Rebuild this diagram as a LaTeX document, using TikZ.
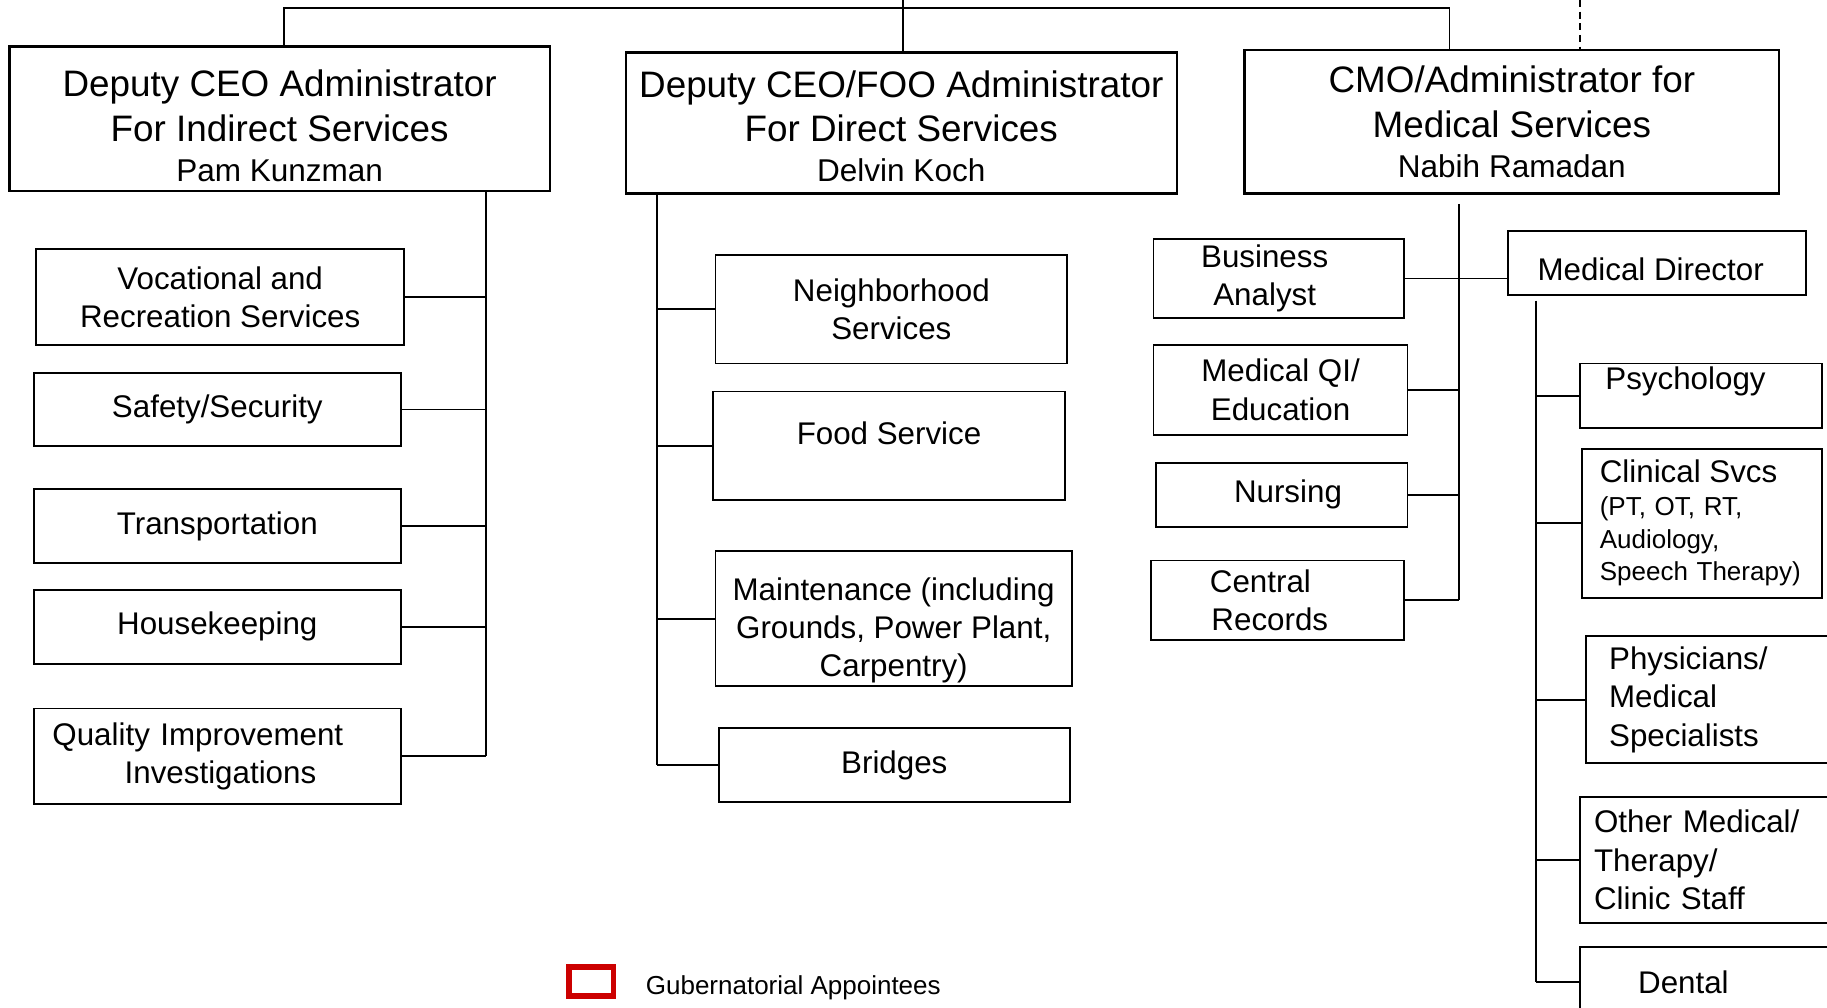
\documentclass[tikz,border=0pt]{standalone}
\usepackage{fontspec}
\setmainfont{Liberation Sans}
\usetikzlibrary{positioning}

\newcommand{\headfont}{\fontsize{18}{21.6}\selectfont}
\newcommand{\namefont}{\fontsize{15.4}{19}\selectfont}
\newcommand{\unitfont}{\fontsize{15.3}{18.8}\selectfont}
\newcommand{\notefont}{\fontsize{12.7}{15.9}\selectfont}

\begin{document}
\begin{tikzpicture}[x=0.02cm,y=-0.02cm,
  headbox/.style={draw,line width=1.1pt,align=center,font=\headfont,inner sep=0pt},
  unitbox/.style={draw,line width=0.9pt,align=center,font=\unitfont,inner sep=0pt},
  leftbox/.style={unitbox,align=left},
  link/.style={line width=0.9pt}]
\useasboundingbox (0,0) rectangle (1568,865);
\clip (0,0) rectangle (1568,865);

\node[headbox,minimum width=9.28cm,minimum height=2.48cm] (dceoi) at (240,102) {\rule{0pt}{20pt}Deputy CEO Administrator\\For Indirect Services\\[-2pt]{\namefont Pam Kunzman}};
\node[headbox,minimum width=9.46cm,minimum height=2.42cm] (dceod) at (773.5,105.5) {\rule{0pt}{16.5pt}Deputy CEO/FOO Administrator\\For Direct Services\\[-2pt]{\namefont Delvin Koch}};
\node[headbox,minimum width=9.18cm,minimum height=2.46cm] (cmo) at (1297.5,104.5) {CMO/Administrator for\\Medical Services\\[-2pt]{\namefont Nabih Ramadan}};

\node[unitbox,minimum width=6.32cm,minimum height=1.64cm] (voc) at (189,255) {Vocational and\\Recreation Services};
\node[unitbox,minimum width=6.30cm,minimum height=1.26cm] (safe) at (186.5,351.5) {Safety/Security};
\node[unitbox,minimum width=6.30cm,minimum height=1.26cm] (trans) at (186.5,451.5) {Transportation};
\node[unitbox,minimum width=6.30cm,minimum height=1.28cm] (house) at (186.5,538) {Housekeeping};
\node[leftbox,minimum width=6.30cm,minimum height=1.64cm,inner xsep=0.32cm,text width=5.66cm] (qual) at (186.5,649) {Quality Improvement\\\hspace*{1.24cm}Investigations};

\node[unitbox,minimum width=6.04cm,minimum height=1.86cm] (neigh) at (765,265.5) {Neighborhood\\Services};
\node[unitbox,minimum width=6.04cm,minimum height=1.86cm,text depth=0.42cm] (food) at (763,382.5) {Food Service};
\node[unitbox,minimum width=6.12cm,minimum height=2.32cm] (maint) at (767,531) {\rule{0pt}{22.5pt}Maintenance (including\\Grounds, Power Plant,\\Carpentry)};
\node[unitbox,minimum width=6.02cm,minimum height=1.26cm] (bridges) at (767.5,656.5) {Bridges};

\node[unitbox,minimum width=4.30cm,minimum height=1.36cm] (ba) at (1097.5,239) {Business\hspace*{0.9em}\\Analyst\hspace*{0.9em}};
\node[unitbox,minimum width=4.36cm,minimum height=1.54cm] (mqi) at (1099,334.5) {Medical QI/\\Education};
\node[unitbox,minimum width=4.32cm,minimum height=1.10cm] (nurs) at (1100,424.5) {\hspace*{0.4em}Nursing};
\node[unitbox,minimum width=4.34cm,minimum height=1.36cm] (crec) at (1096.5,515) {Central\hspace*{1.1em}\\Records\hspace*{0.5em}};
\node[unitbox,minimum width=5.12cm,minimum height=1.10cm] (md) at (1422,225.5) {\rule{0pt}{17.4pt}Medical Director\hspace*{0.4em}};

\node[unitbox,minimum width=4.16cm,minimum height=1.10cm,text depth=0.6cm] (psych) at (1460,339.5) {Psychology\hspace*{1em}};
\node[leftbox,font=\notefont,minimum width=4.12cm,minimum height=2.56cm,inner xsep=0.3cm,text width=3.52cm] (clin) at (1461,449) {{\unitfont Clinical Svcs}\\(PT, OT, RT,\\Audiology,\\Speech~Therapy)};
\node[leftbox,minimum width=4.58cm,minimum height=2.18cm,inner xsep=0.4cm,text width=3.78cm] (phys) at (1475.5,600.5) {Physicians/\\Medical\\Specialists};
\node[leftbox,minimum width=4.68cm,minimum height=2.16cm,inner xsep=0.24cm,text width=4.2cm] (other) at (1473,738) {Other Medical/\\Therapy/\\Clinic Staff};
\node[unitbox,minimum width=4.68cm,minimum height=1.20cm] (dental) at (1473,843) {Dental\hspace*{2.1em}};

\coordinate (ceo) at (775,-20);
\coordinate (gov) at (1356,-20);
\coordinate (dropA) at (244,7);
\coordinate (dropC) at (1244,7);
\coordinate (spA) at (417,0);
\coordinate (spB) at (564,0);
\coordinate (spC) at (1252,0);
\coordinate (spCtop) at (1252,175);
\coordinate (spD) at (1318,0);
\coordinate (spDtop) at (1318,258);

\draw[link] (ceo) -- (ceo |- dceod.north);
\draw[link] (dropA |- dceoi.north) -- (dropA) -- (dropC) -- (dropC |- cmo.north);
\draw[link,dash pattern=on 0.12cm off 0.08cm] (gov) -- (gov |- cmo.north);

\draw[link] (spA |- dceoi.south) -- (spA |- qual.east);
\foreach \u in {voc,safe,trans,house,qual}
  \draw[link] (\u.east) -- (\u.east -| spA);

\draw[link] (spB |- dceod.south) -- (spB |- bridges.west);
\foreach \u in {neigh,food,maint,bridges}
  \draw[link] (spB |- \u.west) -- (\u.west);

\draw[link] (spCtop) -- (spC |- crec.east);
\draw[link] (ba.east) -- (ba.east -| md.west);
\foreach \u in {mqi,nurs,crec}
  \draw[link] (\u.east) -- (\u.east -| spC);

\draw[link] (spDtop) -- (spD |- dental.west);
\foreach \u in {psych,clin,phys,other,dental}
  \draw[link] (spD |- \u.west) -- (\u.west);

\node[draw=red!80!black,line width=2.8pt,minimum width=0.76cm,minimum height=0.5cm,inner sep=0pt] (legbox) at (507.5,842.5) {};
\node[font=\notefont,inner sep=0pt,right=0.5cm of legbox,yshift=-3pt] (legtext) {Gubernatorial Appointees};

\end{tikzpicture}
\end{document}
